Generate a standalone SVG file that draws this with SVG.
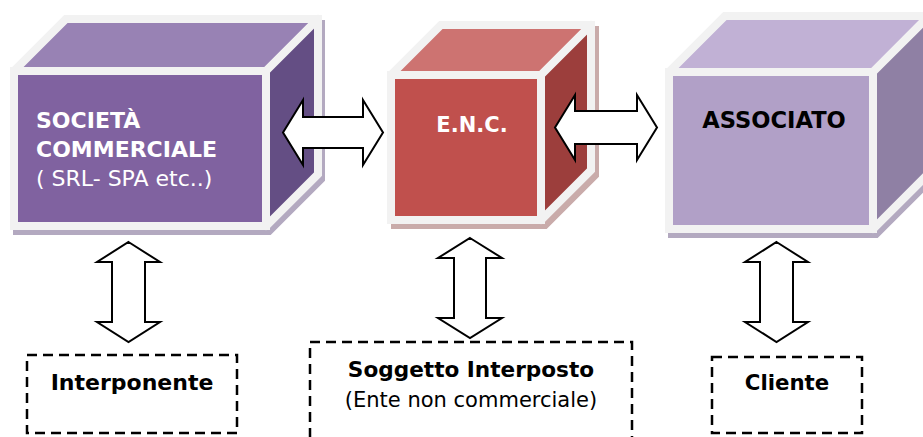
<svg xmlns="http://www.w3.org/2000/svg" width="923" height="437" viewBox="0 0 923 437">
<style>
.border{fill:#f2f2f2;stroke:#f2f2f2;stroke-width:8;stroke-linejoin:miter}
.face{stroke:#f2f2f2;stroke-width:8;stroke-linejoin:round}
.front{stroke:#f2f2f2;stroke-width:8;stroke-linejoin:miter}
.t{font-family:"DejaVu Sans",Verdana,"Liberation Sans",sans-serif}
.b{font-weight:bold}
.w{fill:#ffffff}
.k{fill:#000000}
.arrow{fill:#ffffff;stroke:#000000;stroke-width:2;stroke-linejoin:miter}
.dash{fill:none;stroke:#000000;stroke-width:2.5;stroke-dasharray:10 6}
</style>
<defs>
<pattern id="hatchV" width="6" height="6" patternUnits="userSpaceOnUse">
<rect width="6" height="6" fill="#b3a9c0"/>
<path d="M0 3H6M3 0V6" stroke="#6f6480" stroke-width="0.7"/>
</pattern>
<pattern id="hatchR" width="6" height="6" patternUnits="userSpaceOnUse">
<rect width="6" height="6" fill="#c9abaa"/>
<path d="M0 3H6M3 0V6" stroke="#8a5d5b" stroke-width="0.7"/>
</pattern>
</defs>

<g id="societa">
<polygon points="14,71 66,19 318,19 318,174 266,226 14,226" transform="translate(3,5)" fill="url(#hatchV)" stroke="#b3a9c0" stroke-width="8"/>
<polygon class="border" points="14,71 66,19 318,19 318,174 266,226 14,226"/>
<polygon class="face" fill="#9882b4" points="14,71 66,19 318,19 266,71"/>
<polygon class="face" fill="#644e84" points="266,71 318,19 318,174 266,226"/>
<rect class="front" fill="#8062a0" x="14" y="71" width="252" height="155"/>
<text class="t b w" x="36" y="128" font-size="22">SOCIETÀ</text>
<text class="t b w" x="36" y="157" font-size="22">COMMERCIALE</text>
<text class="t w" x="36" y="186" font-size="22">( SRL- SPA etc..)</text>
</g>

<g id="enc">
<polygon points="391,75 441,25 591,25 591,170 541,220 391,220" transform="translate(4,5)" fill="url(#hatchR)" stroke="#c9abaa" stroke-width="8"/>
<polygon class="border" points="391,75 441,25 591,25 591,170 541,220 391,220"/>
<polygon class="face" fill="#cd7371" points="391,75 441,25 591,25 541,75"/>
<polygon class="face" fill="#9c3e3c" points="541,75 591,25 591,170 541,220"/>
<rect class="front" fill="#c0504d" x="391" y="75" width="150" height="145"/>
<text class="t b w" x="472" y="132" text-anchor="middle" font-size="21">E.N.C.</text>
</g>

<g id="associato">
<polygon points="669,72 725,16 929,16 929,173 873,229 669,229" transform="translate(3,5)" fill="url(#hatchV)" stroke="#b3a9c0" stroke-width="8"/>
<polygon class="border" points="669,72 725,16 929,16 929,173 873,229 669,229"/>
<polygon class="face" fill="#c1b1d5" points="669,72 725,16 929,16 873,72"/>
<polygon class="face" fill="#8f80a4" points="873,72 929,16 929,173 873,229"/>
<rect class="front" fill="#b1a0c7" x="669" y="72" width="204" height="157"/>
<text class="t b k" x="774" y="128" text-anchor="middle" font-size="22.6">ASSOCIATO</text>
</g>

<g id="interponente">
<rect class="dash" x="27" y="355" width="210" height="78"/>
<text class="t b k" x="132" y="390" text-anchor="middle" font-size="22">Interponente</text>
</g>

<g id="soggetto">
<rect class="dash" x="310" y="342" width="322" height="110"/>
<text class="t b k" x="471" y="377" text-anchor="middle" font-size="21.6">Soggetto Interposto</text>
<text class="t k" x="471" y="407" text-anchor="middle" font-size="21">(Ente non commerciale)</text>
</g>

<g id="cliente">
<rect class="dash" x="712" y="357" width="150" height="76"/>
<text class="t b k" x="787" y="390" text-anchor="middle" font-size="21.3">Cliente</text>
</g>

<g id="connectors">
<path class="arrow" d="M283,132.5 L303,100 L303,117 L363,117 L363,100 L383,132.5 L363,165 L363,148 L303,148 L303,165 Z"/>
<path class="arrow" d="M555,127.5 L575,95 L575,111 L637,111 L637,95 L657,127.5 L637,160 L637,144 L575,144 L575,160 Z"/>
<path class="arrow" d="M128.5,242 L160,262 L145,262 L145,322 L160,322 L128.5,342 L97,322 L112,322 L112,262 L97,262 Z"/>
<path class="arrow" d="M470,238 L502,258 L486,258 L486,318 L502,318 L470,338 L438,318 L454,318 L454,258 L438,258 Z"/>
<path class="arrow" d="M776.5,242 L808,262 L793,262 L793,322 L808,322 L776.5,342 L745,322 L760,322 L760,262 L745,262 Z"/>
</g>
</svg>
